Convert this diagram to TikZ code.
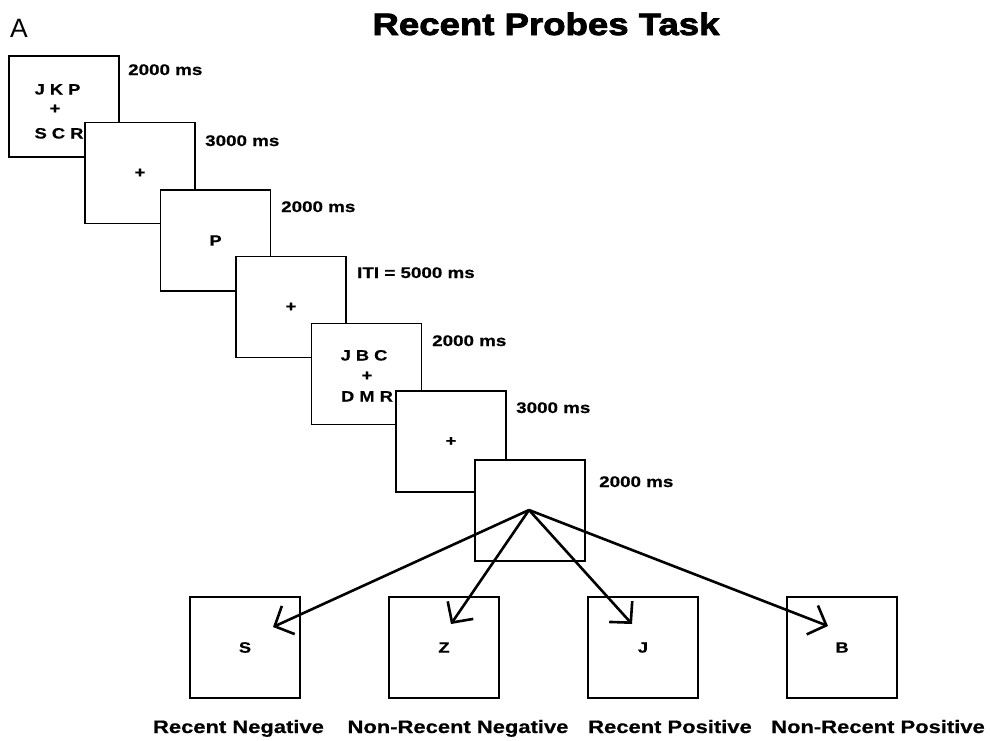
\documentclass[tikz,border=0pt]{standalone}
\usepackage{fontspec}
\setmainfont{Liberation Sans}
\newfontfamily\bfs{Liberation Sans Bold}[FakeStretch=1.22,FakeBold=0.6]
\newfontfamily\ttl{Liberation Sans Bold}[FakeStretch=1.18,FakeBold=2.6]
\usetikzlibrary{arrows.meta}
\begin{document}
\begin{tikzpicture}[x=1pt,y=-1pt,
  box/.style={draw,line width=1.3pt,fill=white,minimum width=110pt,minimum height=101pt,inner sep=0pt,
    font=\bfs\fontsize{15}{20}\selectfont},
  tlab/.style={anchor=base west,inner sep=0pt,font=\bfs\fontsize{15.4}{18}\selectfont},
  blab/.style={anchor=base,inner sep=0pt,font=\bfs\fontsize{18}{20}\selectfont},
  inner/.style={anchor=base,inner sep=0pt,font=\bfs\fontsize{15}{20}\selectfont},
  arr/.style={line width=2.6pt,-{Straight Barb[length=15pt,width=31pt,line width=2.6pt]}}]
\useasboundingbox (0,0) rectangle (990,740);
% title
\node[anchor=base,inner sep=0pt,font=\ttl\fontsize{31}{34}\selectfont] (title) at (546,35) {Recent Probes Task};
\node[anchor=base west,inner sep=0pt,font=\fontsize{26.5}{28}\selectfont] (A) at (10,37) {A};
% sequence boxes
\node[box] (b1) at (64,106.5) {};
\node[inner] (b1t1) at (57.5,94.5) {J K P};
\node[inner] (b1t2) at (55,113.5) {+};
\node[inner] (b1t3) at (59,138.5) {S C R};
\node[box] (b2) at (140,173) {+};
\node[box] (b3) at (215.5,240.5) {P};
\node[box] (b4) at (291,307) {+};
\node[box] (b5) at (366.5,374) {};
\node[inner] (b5t1) at (364,360.5) {J B C};
\node[inner] (b5t2) at (367,380.5) {+};
\node[inner] (b5t3) at (367,401.5) {D M R};
\node[box] (b6) at (451,441.5) {+};
\node[box] (b7) at (530,510.5) {};
% timing labels
\node[tlab] (l1) at (128,75) {2000 ms};
\node[tlab] (l2) at (205,146) {3000 ms};
\node[tlab] (l3) at (281,212) {2000 ms};
\node[tlab] (l4) at (357,278) {ITI = 5000 ms};
\node[tlab] (l5) at (432,346) {2000 ms};
\node[tlab] (l6) at (516,413) {3000 ms};
\node[tlab] (l7) at (599,487) {2000 ms};
% probe boxes
\node[box] (pa) at (245,647.5) {S};
\node[box] (pb) at (444,647.5) {Z};
\node[box] (pc) at (643,647.5) {J};
\node[box] (pd) at (842,647.5) {B};
% probe labels
\node[blab] (la) at (238.5,733) {Recent Negative};
\node[blab] (lb) at (458,733) {Non-Recent Negative};
\node[blab] (lc) at (670,733) {Recent Positive};
\node[blab] (ld) at (878,733) {Non-Recent Positive};
% arrows
\coordinate (apex) at (529,510);
\coordinate (ta) at (273,627);
\coordinate (tb) at (451,624);
\coordinate (tc) at (632,624);
\coordinate (td) at (828,626);
\draw[arr] (apex) -- (ta);
\draw[arr] (apex) -- (tb);
\draw[arr] (apex) -- (tc);
\draw[arr] (apex) -- (td);
\end{tikzpicture}
\end{document}
